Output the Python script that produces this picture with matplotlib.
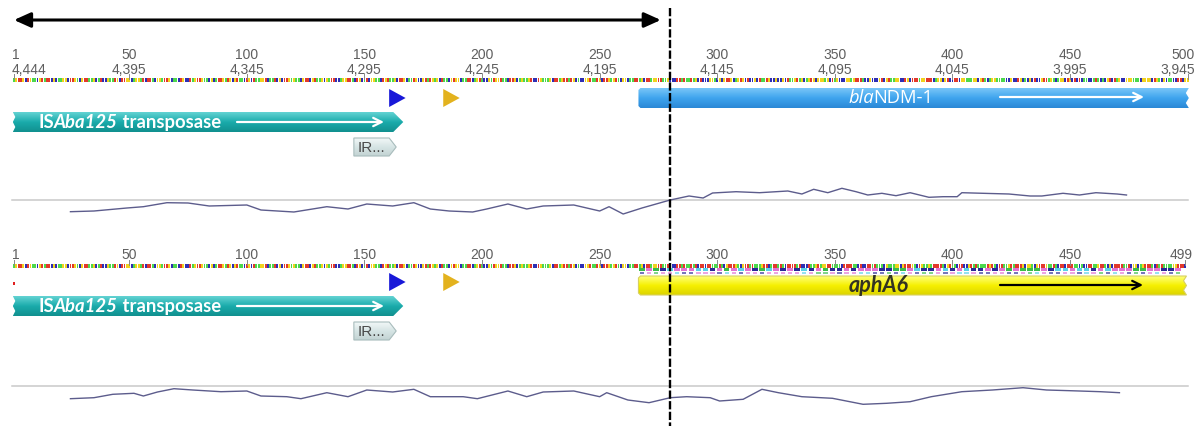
import matplotlib.pyplot as plt
import numpy as np
from matplotlib.patches import Polygon, FancyArrowPatch, Rectangle
from matplotlib.colors import LinearSegmentedColormap

# ---- data -----------------------------------------------------------------
top_ticks = [1, 50, 100, 150, 200, 250, 300, 350, 400, 450, 500]
top_ticks_rev = ['4,444', '4,395', '4,345', '4,295', '4,245', '4,195',
                 '4,145', '4,095', '4,045', '3,995', '3,945']
bottom_ticks = [1, 50, 100, 150, 200, 250, 300, 350, 400, 450, 499]

top_len = 500
bottom_len = 499

# shared IS element + spacer, then the two genes
seq_prefix = ("TGAAGCAGTTCGATAACGCTTGGCAAGTCGAATTGCTACCGTTAGCAAGG"
              "CTGGTACAATCGGTAAGCTTCAGCCATGAAGTTCGCTAAGTAGCGATTCA"
              "GCATTGGACTTACGCAAGTGTTCGAACGATTGCGTAACCTGGAATCAGCT"
              "ACGGTTCAGATTGCAAGCTTAGCCGATAGTGCATTCGAGGCTTAACTGAT"
              "CCGTAGGATTCAAGCTGTTGACCAGTTTGCAATGAATAGCTCCGGATTAG"
              "CAAGTGATCGGCTTAATGCA")
seq_ndm = ("ATGGAATTGCCCAATATTATGCACCCGGTCGCGAAGCTGAGCACCGCATT"
           "AGCCGCCGCATTGATGCTGAGCGGGTGCATGCCCGGTGAAATCCGCCCGA"
           "CGATTGGCCAGCAAATGGAAACTGGCGACCAACGGTTTGGCGATCTGGTT"
           "TTCCGCCAGCTCGCACCGAATGTCTGGCAGCACACTTCCTATCTCGACAT"
           "GCCGGGTTTCGGGGCAGTCGCTTCCAACGG")
seq_aph = ("ATGGAATTACCCAATATTATACAACAATTTATCGAAAGTCGAATATTTGA"
           "ACTAATATCAAAATACCCATTGATGGAATTTTCAAAATTCACCAATATTT"
           "CGTTTGGCGAAAGTCAGTTGTAAAATCGATTCAACCGATATTTTAGATCA"
           "ATTGATAAAGCGGTCGAAAGTTATCAACAAATTCTCCAATTGAATCGCAA"
           "AATTACGGCTGAAATCATATTTTGGAAAC")
top_seq = (seq_prefix + seq_ndm)[:top_len]
bottom_seq = (seq_prefix + seq_aph)[:bottom_len]

# features (start, end) in bases
is_feature = (1, 166)
ir_feature = (146, 163)
blue_site = (161, 167)
yellow_site = (184, 190)
ndm_feature = (267, 500)
aph_feature = (267, 499)
span_arrow = (1, 276)
junction = 280

# graphs (value above the zero line)
top_graph_pos = [25, 35, 49, 56, 66, 75, 84, 100, 106, 120, 134, 143, 151, 162,
                 171, 178, 186, 196, 202, 211, 219, 226, 239, 250, 254, 260, 268,
                 280, 288, 294, 298, 308, 318, 330, 336, 341, 347, 353, 359, 364,
                 370, 376, 382, 390, 396, 402, 404, 413, 424, 433, 438, 447, 454,
                 461, 470, 474]
top_graph_val = [-11.7, -11, -8, -6.7, -2.7, -3, -6, -5, -10, -12, -6.7, -9, -4,
                 -6, -2.7, -9, -11, -12, -9, -4, -9, -6, -5, -11, -6.7, -14, -8,
                 0, 4, 2, 7, 8.3, 7.3, 9, 6, 10.7, 7.3, 11.7, 8.3, 5, 6.7, 4.3,
                 7.3, 2.7, 3.3, 3.3, 7.3, 6.7, 6, 4, 4, 6.7, 5, 7.3, 6, 5]
bottom_graph_pos = [25, 35, 43, 52, 56, 62, 69, 77, 89, 100, 106, 117, 123, 134,
                    143, 151, 162, 171, 178, 192, 198, 211, 219, 226, 239, 250,
                    253, 262, 271, 280, 287, 297, 301, 311, 319, 326, 336, 349,
                    362, 372, 382, 391, 404, 417, 430, 440, 450, 463, 471]
bottom_graph_val = [-12.7, -11.7, -8.3, -7.3, -10, -6, -2.7, -4, -5.7, -5, -10,
                    -10.7, -12.7, -6.7, -10.7, -4, -6, -3.3, -10.7, -10.7, -12.7,
                    -5, -10.7, -6, -5, -10.7, -6.7, -14, -16.7, -11.7, -10.7,
                    -11.7, -15, -13.3, -3.3, -6.7, -10.7, -12.3, -18.3, -17.3,
                    -15.7, -10.7, -5.7, -4, -1.7, -4, -4.7, -5.7, -6.7]

base_colors = {'A': '#e2392b', 'C': '#2e2eb4', 'G': '#f1d21e', 'T': '#4cd84c'}
aa_colors = {'A': '#e06ad0', 'C': '#4fcfe6', 'G': '#2fb83f', 'T': '#1c1c90'}

# ---- layout ---------------------------------------------------------------
PX = 2.352            # pixels per base
X0 = 14               # pixel column of base 1


def b(px):
    return 1 + (px - X0) / PX


fig = plt.figure(figsize=(12.01, 4.26), dpi=100)
ax = fig.add_axes([0, 0, 1, 1])
ax.set_xlim(b(0), b(1201))
ax.set_ylim(426, 0)
ax.axis('off')

ruler_font = dict(family='Liberation Sans', fontsize=10, color='#5e5e5e')


def ruler(ticks, y_num, y_seq, seq, rev=None):
    n = len(ticks)
    for i, t in enumerate(ticks):
        ha = 'left' if i == 0 else ('right' if i == n - 1 else 'center')
        xx = t - 0.9 if i == 0 else (t + 3 if i == n - 1 else t)
        ax.text(xx, y_num, str(t), ha=ha, va='center', **ruler_font)
        if rev is not None:
            ax.text(xx, y_num + 15, rev[i], ha=ha, va='center', **ruler_font)
        ax.plot([t, t], [y_seq - 6, y_seq - 1.5], color='#888888', lw=0.7)
    pos = np.arange(1, len(seq) + 1)
    cols = [base_colors[c] for c in seq]
    ax.bar(pos, 3.4, bottom=y_seq - 1.7, width=0.8, color=cols, linewidth=0)


def gradient_fill(poly_xy, colors, y0, y1, edge=None):
    poly = Polygon(poly_xy, closed=True, facecolor='none',
                   edgecolor=edge if edge else 'none', lw=0.8, zorder=3)
    ax.add_patch(poly)
    cmap = LinearSegmentedColormap.from_list('g', colors)
    xs = [p[0] for p in poly_xy]
    grad = np.linspace(0, 1, 64).reshape(-1, 1)
    im = ax.imshow(grad, cmap=cmap, aspect='auto', origin='upper',
                   extent=(min(xs), max(xs), y1, y0), zorder=2,
                   interpolation='bilinear')
    im.set_clip_path(poly)


def torn_left_arrow(x0, x1, y0, y1):
    head = 10 / PX
    z = 2.5 / PX
    ym = (y0 + y1) / 2
    return [(x0, y0), (x1 - head, y0), (x1, ym), (x1 - head, y1), (x0, y1),
            (x0 + z, (y1 + ym) / 2), (x0, ym), (x0 + z, (y0 + ym) / 2)]


def torn_right_bar(x0, x1, y0, y1):
    z = 3 / PX
    ym = (y0 + y1) / 2
    r = 2 / PX
    return [(x0 + r, y0), (x1, y0), (x1 - z, (y0 + ym) / 2), (x1, ym),
            (x1 - z, (y1 + ym) / 2), (x1, y1), (x0 + r, y1), (x0, y1 - 2),
            (x0, y0 + 2)]


def rich(x, y, parts, color):
    first, style = parts[0]
    prev = ax.text(x, y, first, ha='left', va='center', color=color,
                   zorder=5, **style)
    for s, style in parts[1:]:
        prev = ax.annotate(s, xy=(1, 0), xycoords=prev, ha='left',
                           va='bottom', color=color, zorder=5, **style)


def inner_arrow(xa, xb, y, color):
    ax.annotate('', xy=(xb, y), xytext=(xa, y),
                arrowprops=dict(arrowstyle='->,head_length=0.6,head_width=0.3',
                                color=color, lw=1.6, shrinkA=0, shrinkB=0),
                zorder=6)


def is_track(y0):
    x0, x1 = is_feature[0] - 0.5, is_feature[1] + 0.5
    gradient_fill(torn_left_arrow(x0, x1, y0, y0 + 20),
                  ['#63d3d3', '#1aabab', '#11908f'], y0, y0 + 20)
    lato_b = dict(family='Lato', fontsize=13.3, fontweight='bold')
    lato_bi = dict(family='Lato', fontsize=13.3, fontweight='bold',
                   fontstyle='italic')
    rich(b(38), y0 + 10.5, [('IS', lato_b), ('Aba125', lato_bi),
                             (' transposase', lato_b)], 'white')
    inner_arrow(b(237), b(384), y0 + 10, 'white')
    # IR box
    i0, i1 = ir_feature[0] - 0.5, ir_feature[1] + 0.5
    tip = 7 / PX
    yy0, yy1 = y0 + 26, y0 + 44
    ir = [(i0, yy0), (i1 - tip, yy0), (i1, (yy0 + yy1) / 2), (i1 - tip, yy1),
          (i0, yy1)]
    gradient_fill(ir, ['#f2f8f8', '#d6e4e4', '#c3d3d3'], yy0, yy1,
                  edge='#a8bcbc')
    ax.text(b(358), (yy0 + yy1) / 2 + 0.5, 'IR...', ha='left', va='center',
            family='Liberation Sans', fontsize=11, color='#4a4a4a', zorder=5)
    # small sites
    for (s, e), c in [(blue_site, '#1818d8'), (yellow_site, '#e3b21e')]:
        ax.add_patch(Polygon([(s - 0.5, y0 - 23), (s - 0.5, y0 - 5),
                              (e + 0.5, y0 - 14)], closed=True, facecolor=c,
                             edgecolor='none', zorder=4))


def graph(y_line, pos, val):
    ax.plot([b(12), b(1188)], [y_line, y_line], color='#c9c9c9', lw=1.1)
    ax.plot(pos, [y_line - v for v in val], color='#5c5c8c', lw=1.0)


# top double arrow
ax.add_patch(FancyArrowPatch((span_arrow[0], 20), (span_arrow[1], 20),
                             arrowstyle='<|-|>,head_length=10,head_width=4.5',
                             color='black', lw=2.2, shrinkA=0, shrinkB=0,
                             mutation_scale=1))

# ---- top track ------------------------------------------------------------
ruler(top_ticks, 55, 80, top_seq, top_ticks_rev)
is_track(112)
n0, n1 = ndm_feature[0] - 0.5, ndm_feature[1] + 0.5
gradient_fill(torn_right_bar(n0, n1, 88, 108),
              ['#79c6f8', '#3ea4ee', '#2b88d6'], 88, 108)
op = dict(family='Open Sans', fontsize=13.2)
rich(b(848), 98, [('bla', dict(op, fontstyle='italic')), ('NDM-1', op)],
     'white')
inner_arrow(b(1000), b(1144), 97, 'white')
graph(200, top_graph_pos, top_graph_val)

# ---- bottom track ---------------------------------------------------------
ruler(bottom_ticks, 255, 266, bottom_seq)
ax.add_patch(Rectangle((0.4, 281.5), 1.2, 3.5, facecolor='#e02020',
                       edgecolor='none'))
is_track(296)
a0, a1 = aph_feature[0] - 0.5, aph_feature[1] + 0.5
codon_pos = np.arange(aph_feature[0], aph_feature[1] - 1, 3)
codon_col = [aa_colors[bottom_seq[p]] for p in codon_pos]
ax.bar(codon_pos + 1, 2.4, bottom=268.3, width=2.4, color=codon_col,
       linewidth=0, alpha=0.95)
ax.bar(codon_pos + 1, 1.8, bottom=271.8, width=1.8,
       color=[aa_colors[bottom_seq[p - 1]] for p in codon_pos], linewidth=0,
       alpha=0.6)
gradient_fill(torn_right_bar(a0, a1, 276, 295),
              ['#ffff7a', '#f6f000', '#dcd400'], 276, 295, edge='#d8d060')
rich(b(849), 285.5, [('aphA6', dict(family='Lato', fontsize=15.5,
                                    fontstyle='italic', fontweight='bold'))],
     '#333322')
inner_arrow(b(1000), b(1143), 285, 'black')
graph(386, bottom_graph_pos, bottom_graph_val)

# junction line
ax.plot([junction, junction], [8, 426], color='black', lw=1.7,
        linestyle=(0, (3.5, 1.0)), zorder=8)

fig.savefig('out.png', dpi=100)
